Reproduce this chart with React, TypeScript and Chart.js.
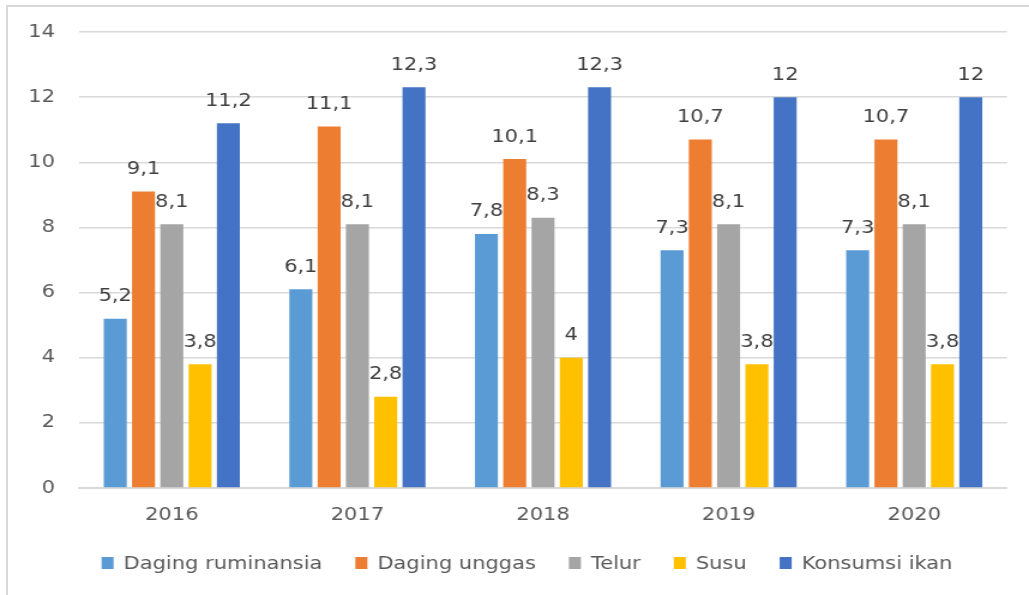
import React, { useEffect, useRef } from "react";
import { Chart, registerables } from "chart.js";

Chart.register(...registerables);

const categories = ["2016", "2017", "2018", "2019", "2020"];
const seriesNames = ["Daging ruminansia", "Daging unggas", "Telur", "Susu", "Konsumsi ikan"];
const dagingRuminansia = [5.2, 6.1, 7.8, 7.3, 7.3];
const dagingUnggas = [9.1, 11.1, 10.1, 10.7, 10.7];
const telur = [8.1, 8.1, 8.3, 8.1, 8.1];
const susu = [3.8, 2.8, 4, 3.8, 3.8];
const konsumsiIkan = [11.2, 12.3, 12.3, 12, 12];
const seriesColors = ["#5B9BD5", "#ED7D31", "#A5A5A5", "#FFC000", "#4472C4"];
const yTicks = [0, 2, 4, 6, 8, 10, 12, 14];

// The reference is horizontally stretched; draw on a narrower canvas and stretch it with CSS.
const OUT_W = 1029;
const OUT_H = 595;
const SX = 1.2;
const CANVAS_W = Math.round(OUT_W / SX);
const sx = OUT_W / CANVAS_W;

const FONT = '"DejaVu Sans", sans-serif';
const FONT_SIZE = 17.5;

const fmt = (v: number) => String(v).replace(".", ",");

const dataLabelPlugin = {
  id: "dataLabels",
  afterDatasetsDraw(chart: any) {
    const ctx = chart.ctx;
    ctx.save();
    ctx.font = `${FONT_SIZE}px ${FONT}`;
    ctx.fillStyle = "#404040";
    ctx.textAlign = "center";
    ctx.textBaseline = "middle";
    chart.data.datasets.forEach((ds: any, di: number) => {
      const meta = chart.getDatasetMeta(di);
      meta.data.forEach((bar: any, i: number) => {
        ctx.fillText(fmt(ds.data[i]), bar.x, bar.y - 22);
      });
    });
    ctx.restore();
  },
};

const customLegendPlugin = {
  id: "customLegend",
  afterDraw(chart: any) {
    const ctx = chart.ctx;
    ctx.save();
    ctx.font = `${FONT_SIZE}px ${FONT}`;
    const boxW = 12 / sx;
    const boxH = 12;
    const gapText = 10 / sx;
    const gapItem = 33 / sx;
    const items = chart.data.datasets.map((ds: any) => ({
      label: ds.label,
      color: ds.backgroundColor,
      w: ctx.measureText(ds.label).width,
    }));
    const total =
      items.reduce((s: number, it: any) => s + boxW + gapText + it.w, 0) +
      gapItem * (items.length - 1);
    const cy = 563;
    let x = 527 / sx - total / 2;
    ctx.textAlign = "left";
    ctx.textBaseline = "middle";
    items.forEach((it: any) => {
      ctx.fillStyle = it.color;
      ctx.fillRect(x, cy - boxH / 2, boxW, boxH);
      ctx.fillStyle = "#595959";
      ctx.fillText(it.label, x + boxW + gapText, cy + 1);
      x += boxW + gapText + it.w + gapItem;
    });
    ctx.restore();
  },
};

export default function App() {
  const canvasRef = useRef<HTMLCanvasElement | null>(null);

  useEffect(() => {
    if (!canvasRef.current) return;
    const values = [dagingRuminansia, dagingUnggas, telur, susu, konsumsiIkan];
    const chart = new Chart(canvasRef.current, {
      type: "bar",
      data: {
        labels: categories,
        datasets: seriesNames.map((name, i) => ({
          label: name,
          data: values[i],
          backgroundColor: seriesColors[i],
          categoryPercentage: 0.762,
          barPercentage: 0.813,
        })),
      },
      options: {
        responsive: false,
        animation: false,
        devicePixelRatio: 1,
        layout: { padding: { top: 32, right: 22 / sx, left: 0, bottom: 0 } },
        plugins: {
          legend: { display: false },
          tooltip: { enabled: false },
        },
        scales: {
          x: {
            grid: { display: false, drawTicks: false },
            border: { display: true, color: "#d9d9d9", width: 2 },
            ticks: {
              color: "#595959",
              font: { family: FONT, size: FONT_SIZE },
              padding: 17,
            },
            afterFit: (scale: any) => {
              scale.height = 107;
            },
          },
          y: {
            min: 0,
            max: 14,
            afterBuildTicks: (scale: any) => {
              scale.ticks = yTicks.map((v) => ({ value: v }));
            },
            grid: { color: "#d9d9d9", lineWidth: 1.5, drawTicks: false },
            border: { display: false },
            ticks: {
              color: "#595959",
              font: { family: FONT, size: FONT_SIZE },
              padding: 24 / sx,
              callback: (v: any) => String(v),
            },
            afterFit: (scale: any) => {
              scale.width = 79 / sx;
            },
          },
        },
      },
      plugins: [dataLabelPlugin, customLegendPlugin],
    });
    return () => chart.destroy();
  }, []);

  return (
    <div
      style={{
        position: "fixed",
        left: 0,
        top: 0,
        width: OUT_W,
        height: OUT_H,
        background: "#ffffff",
        overflow: "hidden",
      }}
    >
      <canvas
        ref={canvasRef}
        width={CANVAS_W}
        height={OUT_H}
        style={{ display: "block", width: OUT_W, height: OUT_H }}
      />
      <div
        style={{
          position: "absolute",
          left: 6,
          top: 5,
          width: 1100,
          height: 700,
          borderLeft: "2px solid #d9d9d9",
          borderTop: "2px solid #d9d9d9",
          pointerEvents: "none",
        }}
      />
    </div>
  );
}
